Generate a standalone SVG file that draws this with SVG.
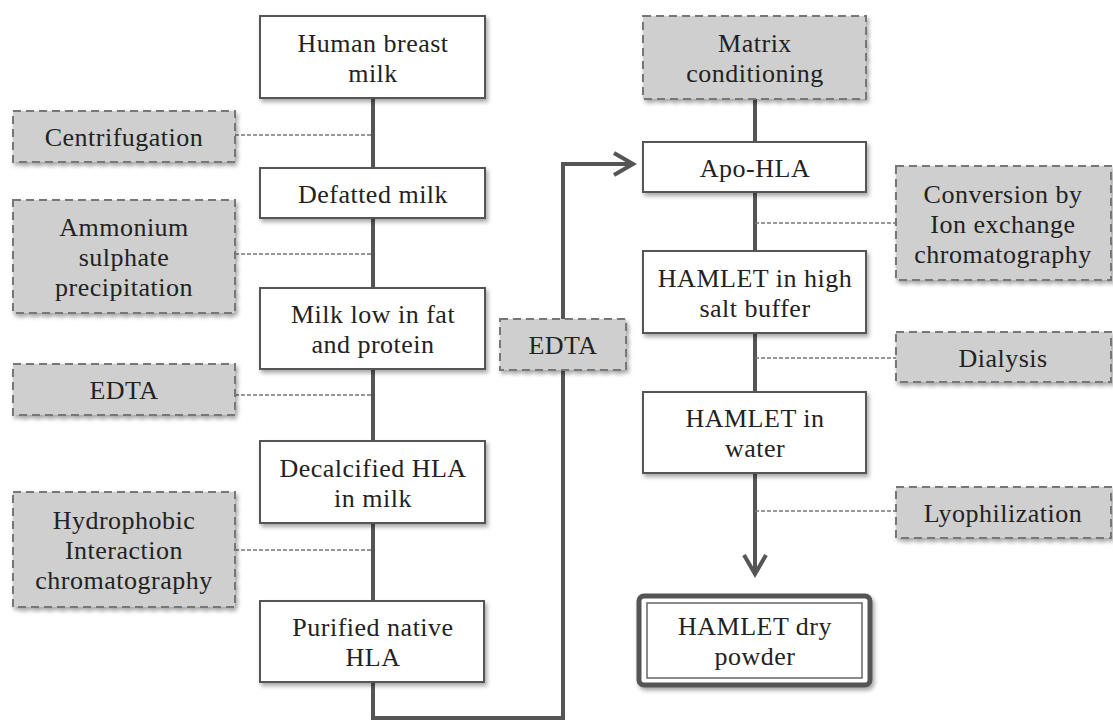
<svg xmlns="http://www.w3.org/2000/svg" width="1113" height="722" viewBox="0 0 1113 722">
<style>
.box{fill:#fff;stroke:#555;stroke-width:2}
.sub{fill:#cfcfcf;stroke:#777;stroke-width:2;stroke-dasharray:8 5}
.t{font-family:"Liberation Serif","Times New Roman",serif;font-size:26px;letter-spacing:0.5px;fill:#222;text-anchor:middle}
.flow{fill:none;stroke:#555;stroke-width:4}
.dash{fill:none;stroke:#777;stroke-width:1.5;stroke-dasharray:4 2}
</style>
<defs>
<filter id="sh" x="-10%" y="-10%" width="125%" height="130%">
<feDropShadow dx="2" dy="3" stdDeviation="2" flood-color="#000" flood-opacity="0.35"/>
</filter>
<marker id="arr" viewBox="-24 -14 28 28" markerWidth="28" markerHeight="28" refX="0" refY="0" orient="auto" markerUnits="userSpaceOnUse">
<path d="M-20,-11 L-1,0 L-20,11" fill="none" stroke="#555" stroke-width="4"/>
</marker>
</defs>
<g id="connectors">
<path class="flow" d="M373,98 V168 M373,218 V288 M373,369 V441 M373,523 V601"/>
<path class="flow" d="M373,682 V718 H563 V164 H634" marker-end="url(#arr)"/>
<path class="flow" d="M755,99 V142 M755,192 V251 M755,333 V392"/>
<path class="flow" d="M755,473 V575" marker-end="url(#arr)"/>
<path class="dash" d="M235,135 H373 M235,254 H373 M235,395 H373 M235,550 H373"/>
<path class="dash" d="M755,223 H896 M755,358 H896 M755,511 H896"/>
</g>
<g id="n-human-milk"><rect class="box" filter="url(#sh)" x="260" y="16" width="225" height="82"/><text class="t" x="373" y="52">Human breast</text><text class="t" x="373" y="82">milk</text></g>
<g id="n-centrifugation"><rect class="sub" filter="url(#sh)" x="13" y="111" width="222" height="51"/><text class="t" x="124" y="146">Centrifugation</text></g>
<g id="n-defatted"><rect class="box" filter="url(#sh)" x="260" y="168" width="225" height="50"/><text class="t" x="373" y="203">Defatted milk</text></g>
<g id="n-ammonium"><rect class="sub" filter="url(#sh)" x="13" y="200" width="222" height="113"/><text class="t" x="124" y="236">Ammonium</text><text class="t" x="124" y="266">sulphate</text><text class="t" x="124" y="296">precipitation</text></g>
<g id="n-milk-low"><rect class="box" filter="url(#sh)" x="260" y="288" width="225" height="81"/><text class="t" x="373" y="323">Milk low in fat</text><text class="t" x="373" y="353">and protein</text></g>
<g id="n-edta-left"><rect class="sub" filter="url(#sh)" x="13" y="364" width="222" height="51"/><text class="t" x="124" y="399">EDTA</text></g>
<g id="n-decalcified"><rect class="box" filter="url(#sh)" x="260" y="441" width="225" height="82"/><text class="t" x="373" y="477">Decalcified HLA</text><text class="t" x="373" y="507">in milk</text></g>
<g id="n-hydrophobic"><rect class="sub" filter="url(#sh)" x="13" y="492" width="222" height="115"/><text class="t" x="124" y="529">Hydrophobic</text><text class="t" x="124" y="559">Interaction</text><text class="t" x="124" y="589">chromatography</text></g>
<g id="n-purified"><rect class="box" filter="url(#sh)" x="260" y="601" width="224" height="81"/><text class="t" x="373" y="636">Purified native</text><text class="t" x="373" y="666">HLA</text></g>
<g id="n-edta-mid"><rect class="sub" filter="url(#sh)" x="500" y="319" width="126" height="51"/><text class="t" x="563" y="354">EDTA</text></g>
<g id="n-matrix"><rect class="sub" filter="url(#sh)" x="643" y="16" width="223" height="83"/><text class="t" x="755" y="52">Matrix</text><text class="t" x="755" y="82">conditioning</text></g>
<g id="n-apo"><rect class="box" filter="url(#sh)" x="643" y="142" width="223" height="50"/><text class="t" x="755" y="177">Apo-HLA</text></g>
<g id="n-conversion"><rect class="sub" filter="url(#sh)" x="896" y="166" width="215" height="114"/><text class="t" x="1003" y="203">Conversion by</text><text class="t" x="1003" y="233">Ion exchange</text><text class="t" x="1003" y="263">chromatography</text></g>
<g id="n-hamlet-salt"><rect class="box" filter="url(#sh)" x="643" y="251" width="223" height="82"/><text class="t" x="755" y="287">HAMLET in high</text><text class="t" x="755" y="317">salt buffer</text></g>
<g id="n-dialysis"><rect class="sub" filter="url(#sh)" x="896" y="332" width="215" height="50"/><text class="t" x="1003" y="367">Dialysis</text></g>
<g id="n-hamlet-water"><rect class="box" filter="url(#sh)" x="643" y="392" width="223" height="81"/><text class="t" x="755" y="427">HAMLET in</text><text class="t" x="755" y="457">water</text></g>
<g id="n-lyophilization"><rect class="sub" filter="url(#sh)" x="896" y="487" width="215" height="51"/><text class="t" x="1003" y="522">Lyophilization</text></g>
<g id="n-dry-powder"><rect filter="url(#sh)" x="639" y="596" width="231" height="89" rx="5" fill="#fff" stroke="#555" stroke-width="5"/><rect x="647" y="603" width="215" height="75" fill="none" stroke="#666" stroke-width="1.5"/><text class="t" x="755" y="635">HAMLET dry</text><text class="t" x="755" y="665">powder</text></g>
</svg>
